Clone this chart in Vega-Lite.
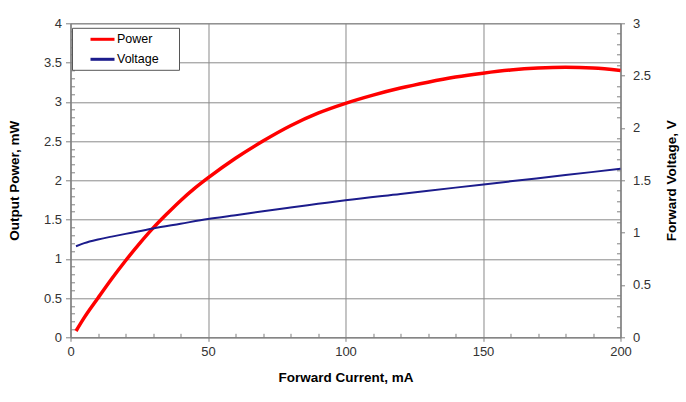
{
  "$schema": "https://vega.github.io/schema/vega-lite/v6.json",
  "width": 550,
  "height": 314,
  "autosize": "none",
  "padding": {"left": 70.5, "top": 23.3, "right": 65, "bottom": 65},
  "background": "white",
  "config": {
    "view": {"stroke": "#808080", "strokeWidth": 1},
    "axis": {
      "gridColor": "#8a8a8a",
      "gridWidth": 1,
      "domainColor": "#808080",
      "tickColor": "#808080",
      "labelFont": "Liberation Sans",
      "labelFontSize": 13,
      "labelColor": "#333333",
      "titleFont": "Liberation Sans",
      "titleFontSize": 13.5,
      "titleFontWeight": "bold",
      "titleColor": "#000000",
      "labelOverlap": false,
      "labelBound": false,
      "labelFlush": false
    },
    "legend": {
      "labelFont": "Liberation Sans",
      "labelFontSize": 12.5,
      "labelColor": "#000000"
    }
  },
  "datasets": {
    "power": [
      {"current": 2, "power": 0.08},
      {"current": 5, "power": 0.25},
      {"current": 10, "power": 0.5},
      {"current": 15, "power": 0.745},
      {"current": 20, "power": 0.975},
      {"current": 25, "power": 1.19},
      {"current": 30, "power": 1.39},
      {"current": 35, "power": 1.57},
      {"current": 40, "power": 1.74},
      {"current": 45, "power": 1.893},
      {"current": 50, "power": 2.03},
      {"current": 60, "power": 2.28},
      {"current": 70, "power": 2.5},
      {"current": 80, "power": 2.695},
      {"current": 90, "power": 2.855},
      {"current": 100, "power": 2.98},
      {"current": 110, "power": 3.085},
      {"current": 120, "power": 3.175},
      {"current": 130, "power": 3.25},
      {"current": 140, "power": 3.315},
      {"current": 150, "power": 3.365},
      {"current": 160, "power": 3.405},
      {"current": 170, "power": 3.43},
      {"current": 180, "power": 3.44},
      {"current": 190, "power": 3.43},
      {"current": 200, "power": 3.4}
    ],
    "voltage": [
      {"current": 2, "voltage": 0.87},
      {"current": 5, "voltage": 0.9},
      {"current": 10, "voltage": 0.935},
      {"current": 15, "voltage": 0.962},
      {"current": 20, "voltage": 0.988},
      {"current": 25, "voltage": 1.013},
      {"current": 30, "voltage": 1.04},
      {"current": 40, "voltage": 1.085},
      {"current": 50, "voltage": 1.13},
      {"current": 60, "voltage": 1.166},
      {"current": 70, "voltage": 1.204},
      {"current": 80, "voltage": 1.24},
      {"current": 90, "voltage": 1.275},
      {"current": 100, "voltage": 1.31},
      {"current": 120, "voltage": 1.37},
      {"current": 140, "voltage": 1.43},
      {"current": 160, "voltage": 1.49},
      {"current": 180, "voltage": 1.55},
      {"current": 200, "voltage": 1.61}
    ]
  },
  "encoding": {
    "x": {
      "field": "current",
      "type": "quantitative",
      "scale": {"domain": [0, 200], "nice": false, "zero": false},
      "axis": {
        "title": "Forward Current, mA",
        "values": [0,10,20,30,40,50,60,70,80,90,100,110,120,130,140,150,160,170,180,190,200],
        "labelExpr": "datum.value % 50 === 0 ? format(datum.value, '~g') : ''",
        "gridOpacity": {"condition": {"test": "datum.value % 50 === 0", "value": 1}, "value": 0},
        "tickSize": {"condition": {"test": "datum.value % 50 === 0", "value": 4}, "value": -4},
        "labelPadding": 4,
        "titlePadding": 12
      }
    }
  },
  "layer": [
    {
      "data": {"name": "power"},
      "mark": {"type": "line", "strokeWidth": 3.5, "interpolate": "monotone"},
      "encoding": {
        "y": {
          "field": "power",
          "type": "quantitative",
          "scale": {"domain": [0, 4], "nice": false},
          "axis": {
            "orient": "left",
            "title": "Output Power, mW",
            "values": [0,0.1,0.2,0.3,0.4,0.5,0.6,0.7,0.8,0.9,1,1.1,1.2,1.3,1.4,1.5,1.6,1.7,1.8,1.9,2,2.1,2.2,2.3,2.4,2.5,2.6,2.7,2.8,2.9,3,3.1,3.2,3.3,3.4,3.5,3.6,3.7,3.8,3.9,4],
            "labelExpr": "abs(datum.value*2 - round(datum.value*2)) < 0.001 ? format(datum.value, '~g') : ''",
            "gridOpacity": {"condition": {"test": "abs(datum.value*2 - round(datum.value*2)) < 0.001", "value": 1}, "value": 0},
            "tickSize": {"condition": {"test": "abs(datum.value*2 - round(datum.value*2)) < 0.001", "value": 5}, "value": -4},
            "labelPadding": 4,
            "titlePadding": 22
          }
        },
        "color": {
          "datum": "Power",
          "type": "nominal",
          "scale": {"domain": ["Power", "Voltage"], "range": ["#ff0000", "#1c1c8c"]},
          "legend": {
            "title": "MM",
            "titleOrient": "right",
            "titleFontSize": 8,
            "titlePadding": 2,
            "titleColor": "rgba(0,0,0,0)",
            "titleOpacity": 0,
            "orient": "none",
            "legendX": 1.5,
            "legendY": 4.5,
            "symbolType": "M-2,0H2",
            "symbolSize": 144,
            "symbolStrokeWidth": 3,
            "symbolOffset": 19,
            "labelOffset": 7,
            "padding": 4,
            "rowPadding": 6,
            "strokeColor": "#555555",
            "fillColor": "white"
          }
        }
      }
    },
    {
      "data": {"name": "voltage"},
      "mark": {"type": "line", "strokeWidth": 2, "interpolate": "monotone"},
      "encoding": {
        "y": {
          "field": "voltage",
          "type": "quantitative",
          "scale": {"domain": [0, 3], "nice": false},
          "axis": {
            "orient": "right",
            "title": "Forward Voltage, V",
            "titleAngle": 270,
            "grid": false,
            "values": [0,0.1,0.2,0.3,0.4,0.5,0.6,0.7,0.8,0.9,1,1.1,1.2,1.3,1.4,1.5,1.6,1.7,1.8,1.9,2,2.1,2.2,2.3,2.4,2.5,2.6,2.7,2.8,2.9,3],
            "labelExpr": "abs(datum.value*2 - round(datum.value*2)) < 0.001 ? format(datum.value, '~g') : ''",
            "tickSize": {"condition": {"test": "abs(datum.value*2 - round(datum.value*2)) < 0.001", "value": 4}, "value": -4},
            "labelPadding": 8,
            "titlePadding": 28
          }
        },
        "color": {"datum": "Voltage", "type": "nominal"}
      }
    }
  ],
  "resolve": {"scale": {"y": "independent"}}
}
